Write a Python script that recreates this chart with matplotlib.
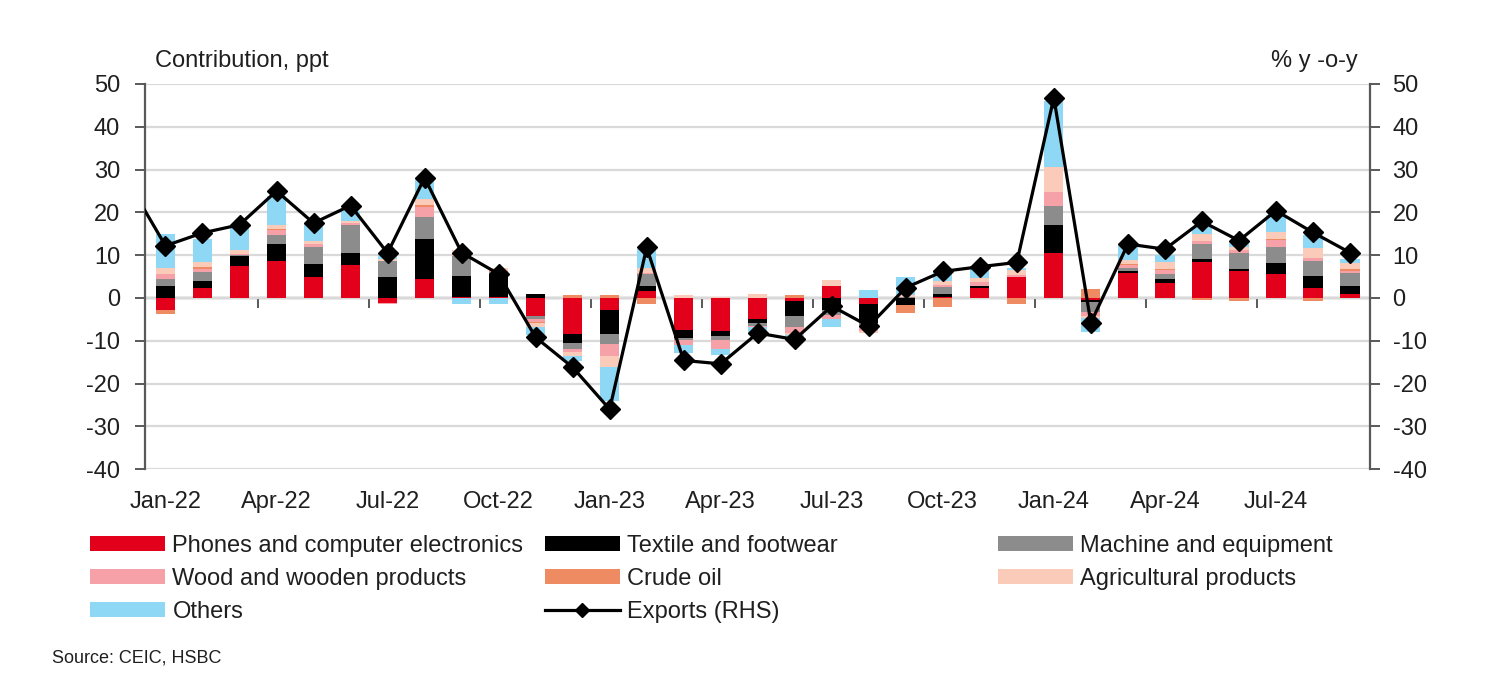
import numpy as np
import pandas as pd
import matplotlib
matplotlib.use("Agg")
import matplotlib.pyplot as plt
from matplotlib.patches import Patch
from matplotlib.lines import Line2D

plt.rcParams['font.family'] = ['Liberation Sans', 'DejaVu Sans']
plt.rcParams['axes.unicode_minus'] = False

months = pd.date_range('2022-01-01', periods=33, freq='MS').strftime('%b-%y').tolist()

# contributions, ppt (Jan-22 .. Sep-24)
phones = [-2.7, 2.3, 7.4, 8.6, 4.9, 7.7, -1.2, 4.4, 0.3, 0.3, -4.2, -8.5,
          -2.9, 1.6, -7.4, -7.7, -5.0, -0.7, 2.8, -1.3, 0.0, 0.2, 2.3, 4.8,
          10.6, -0.5, 5.9, 3.6, 8.3, 6.3, 5.6, 2.4, 1.0]
textile = [2.7, 1.7, 2.3, 3.9, 3.0, 2.7, 4.8, 9.4, 4.8, 5.3, 1.0, -2.0,
           -5.6, 1.2, -2.0, -1.2, -0.8, -3.5, -2.7, -4.5, -1.6, 0.8, 0.6, 0.2,
           6.5, -0.5, 0.5, 0.8, 0.8, 0.5, 2.5, 2.7, 1.8]
machine = [1.8, 2.0, 0.3, 2.3, 4.1, 6.7, 3.9, 5.1, 4.7, 0.5, -0.8, -1.5,
           -2.3, 2.7, -0.5, -1.0, -0.8, -2.7, -1.2, -0.5, 0.3, 1.5, 0.0, 0.0,
           4.5, -2.2, 0.5, 1.2, 3.5, 3.8, 3.8, 3.5, 3.1]
wood = [1.2, 0.8, 0.2, 1.0, 0.5, 0.3, -0.3, 2.3, 0.3, 0.0, -0.6, -0.7,
        -2.7, 0.3, -1.0, -2.0, -0.3, -1.2, -1.0, -1.5, 0.0, 0.5, 0.8, 0.3,
        3.1, -1.0, 0.7, 0.9, 0.8, 0.5, 1.6, 0.8, 0.5]
crude = [-1.0, 0.5, 0.0, 0.3, 0.0, 0.0, 0.0, 0.5, 0.4, 0.3, -0.3, 0.8,
         0.8, -1.5, 0.0, 0.0, 0.0, 0.8, 0.0, 0.0, -1.8, -2.0, 0.0, -1.5,
         0.0, 2.2, 0.3, 0.3, -0.5, -0.6, 0.3, -0.7, 0.3]
agri = [1.3, 1.2, 1.0, 1.0, 0.9, 0.6, 0.3, 1.5, 0.8, 0.5, -0.8, -0.8,
        -2.7, 1.3, 0.6, 0.3, 1.0, -0.5, 1.3, -0.3, 0.3, 0.9, 0.9, 1.3,
        5.9, -0.5, 1.0, 1.5, 1.6, 0.7, 1.5, 2.3, 1.4]
others = [8.0, 5.3, 5.4, 6.7, 3.9, 2.3, 1.5, 4.3, -1.5, -1.3, -1.9, -1.2,
          -7.8, 4.3, -2.0, -1.5, -1.5, -0.8, -2.0, 1.8, 4.3, 2.7, 2.2, 0.5,
          15.5, -3.3, 3.2, 1.8, 1.5, 1.0, 4.0, 2.9, 1.0]

# exports % y-o-y, Jan-22 .. Sep-24, plus Dec-21 for the clipped lead-in
exports_dec21 = 27.0
exports = [12.2, 15.2, 17.1, 25.0, 17.5, 21.6, 10.5, 28.1, 10.6, 5.6, -9.2, -16.2,
           -26.0, 11.8, -14.6, -15.4, -8.2, -9.7, -1.9, -6.6, 2.4, 6.2, 7.3, 8.3,
           46.8, -5.8, 12.6, 11.4, 17.9, 13.4, 20.4, 15.3, 10.6]

series = [
    ("Phones and computer electronics", phones, "#E2001A"),
    ("Textile and footwear", textile, "#000000"),
    ("Machine and equipment", machine, "#8C8C8C"),
    ("Wood and wooden products", wood, "#F6A0A8"),
    ("Crude oil", crude, "#EE8B63"),
    ("Agricultural products", agri, "#F9CBB8"),
    ("Others", others, "#8FD8F5"),
]

txt = "#1F1F1F"
axc = "#595959"
fs = 17

fig = plt.figure(figsize=(14.96, 6.94), dpi=100)
ax = fig.add_axes([0.097, 0.324, 0.819, 0.555])

x = np.arange(len(months))
pos = np.zeros(len(months))
neg = np.zeros(len(months))
handles = {}
for name, vals, col in series:
    v = np.array(vals)
    p = np.where(v > 0, v, 0)
    n = np.where(v < 0, v, 0)
    ax.bar(x, p, 0.52, bottom=pos, color=col, zorder=2)
    ax.bar(x, n, 0.52, bottom=neg, color=col, zorder=2)
    pos += p
    neg += n
    handles[name] = Patch(facecolor=col, edgecolor='none')

ax.set_ylim(-40, 50)
ax.set_xlim(-0.55, 32.55)
ax.set_yticks(range(-40, 51, 10))
ax.yaxis.grid(True, color="#D9D9D9", lw=1.6, zorder=0)
ax.set_axisbelow(True)
for s in ['top', 'bottom', 'right']:
    ax.spines[s].set_visible(False)
ax.spines['left'].set_color(axc)
ax.spines['left'].set_linewidth(1.6)
ax.tick_params(axis='y', labelsize=fs, labelcolor=txt, color=axc, length=7, width=1.4, pad=11)
ax.set_xticks(x[::3])
ax.set_xticklabels(months[::3])
ax.tick_params(axis='x', labelsize=fs, labelcolor=txt, length=0, pad=16)

# zero line with month-group ticks
zero = ax.secondary_xaxis(40 / 90)
zero.set_xticks(x[3::3] - 0.5)
zero.set_xticklabels([])
zero.tick_params(length=7, width=1.4, color=axc, direction='out')
zero.spines['bottom'].set_color(axc)
zero.spines['bottom'].set_linewidth(1.6)

ax2 = ax.twinx()
ax2.set_ylim(-40, 50)
ax2.set_yticks(range(-40, 51, 10))
for s in ['top', 'bottom', 'left']:
    ax2.spines[s].set_visible(False)
ax2.spines['right'].set_color(axc)
ax2.spines['right'].set_linewidth(1.6)
ax2.tick_params(axis='y', labelsize=fs, labelcolor=txt, color=axc, length=7, width=1.4, pad=9)
ax2.plot(np.arange(-1, len(months)), [exports_dec21] + exports, color='black', lw=2.3,
         marker='D', ms=10, zorder=5)

ax.text(0.008, 1.03, "Contribution, ppt", transform=ax.transAxes, fontsize=fs,
        color=txt, ha='left', va='bottom')
ax.text(0.99, 1.03, "% y -o-y", transform=ax.transAxes, fontsize=fs,
        color=txt, ha='right', va='bottom')

exp_handle = Line2D([], [], color='black', lw=2.3, marker='D', ms=7)
cols = [
    (0.060, ["Phones and computer electronics", "Wood and wooden products", "Others"]),
    (0.364, ["Textile and footwear", "Crude oil", "Exports (RHS)"]),
    (0.667, ["Machine and equipment", "Agricultural products"]),
]
for xpos, names in cols:
    hs = [exp_handle if n == "Exports (RHS)" else handles[n] for n in names]
    fig.legend(hs, names, loc='upper left', bbox_to_anchor=(xpos, 0.229),
               frameon=False, fontsize=fs, handlelength=3.2, handleheight=0.6,
               handletextpad=0.3, labelspacing=0.47, borderpad=0, borderaxespad=0,
               labelcolor=txt)

fig.text(0.035, 0.04, "Source: CEIC, HSBC", fontsize=13, color=txt, ha='left', va='bottom')

fig.savefig("out.png", dpi=100)
